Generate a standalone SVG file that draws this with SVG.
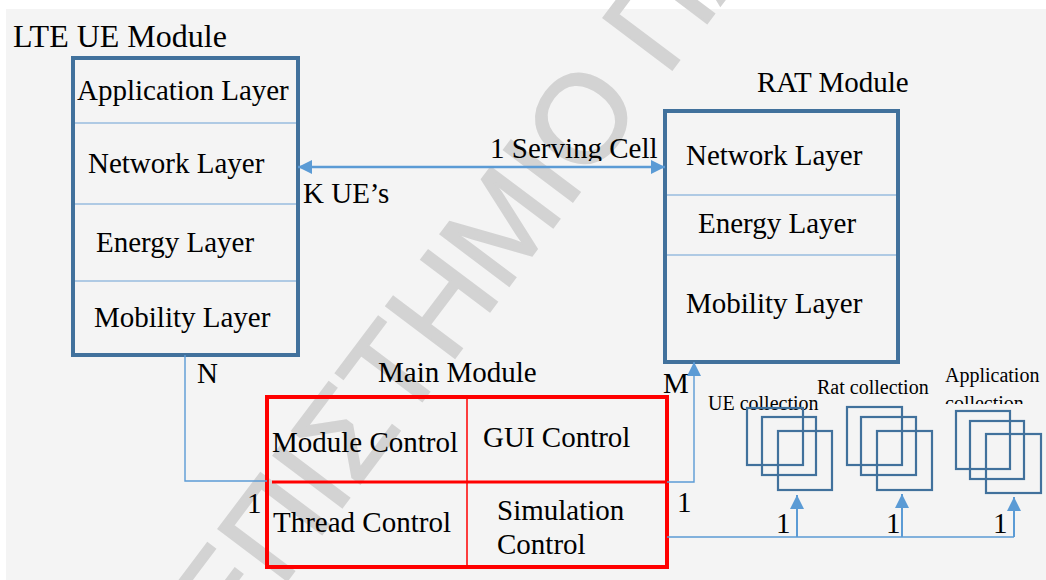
<svg xmlns="http://www.w3.org/2000/svg" width="1046" height="580" viewBox="0 0 1046 580">
<style>
.t{font-size:29px;fill:#000}
.s{font-size:20px;fill:#000}
.box{fill:none;stroke:#41719c;stroke-width:4}
.div{stroke:#6a9fd4;stroke-width:1.2;fill:none}
.con{fill:none;stroke:#5b9bd5;stroke-width:1.4}
.sq{fill:none;stroke:#41719c;stroke-width:2.2}
.wm{font-size:125px;fill:#d3d3d3;stroke:#d3d3d3;stroke-width:2}
</style>
<defs>
<marker id="arr" viewBox="0 0 10 10" refX="10" refY="5" markerWidth="15" markerHeight="14" markerUnits="userSpaceOnUse" orient="auto-start-reverse">
<path d="M0,0 L10,5 L0,10 z" fill="#5b9bd5"/>
</marker>
<clipPath id="clipSC"><rect x="400" y="100" width="300" height="61"/></clipPath>
<clipPath id="clipAC"><rect x="930" y="350" width="116" height="54"/></clipPath>
</defs>
<rect x="6" y="9" width="1040" height="571" fill="#f4f4f4"/>
<text class="wm" font-family="Liberation Sans, Arial, sans-serif" transform="translate(72,866) rotate(-53)">ΠΑΝΕΠΙΣΤΗΜΙΟ ΠΑΤΡΩΝ</text>

<g font-family="Liberation Serif, Times New Roman, DejaVu Serif, serif">
<g id="lte-ue-module">
<text x="13" y="47" style="font-size:32px;fill:#000">LTE UE Module</text>
<rect class="box" x="73" y="58" width="225" height="297"/>
<line class="div" x1="75" y1="123" x2="296" y2="123"/>
<line class="div" x1="75" y1="204" x2="296" y2="204"/>
<line class="div" x1="75" y1="281" x2="296" y2="281"/>
<text class="t" x="77" y="100">Application Layer</text>
<text class="t" x="88" y="173">Network Layer</text>
<text class="t" x="96" y="252">Energy Layer</text>
<text class="t" x="94" y="327">Mobility Layer</text>
</g>

<g id="rat-module">
<text class="t" x="757" y="92">RAT Module</text>
<rect class="box" x="665" y="111" width="233" height="251"/>
<line class="div" x1="667" y1="195" x2="896" y2="195"/>
<line class="div" x1="667" y1="255" x2="896" y2="255"/>
<text class="t" x="686" y="165">Network Layer</text>
<text class="t" x="698" y="233">Energy Layer</text>
<text class="t" x="686" y="313">Mobility Layer</text>
</g>

<g id="main-module">
<text class="t" x="378" y="382">Main Module</text>
<rect x="267" y="397" width="400" height="170" fill="none" stroke="#ff0000" stroke-width="4"/>
<line x1="467" y1="397" x2="467" y2="567" stroke="#ff0000" stroke-width="1.5"/>
<line x1="272" y1="482" x2="665" y2="482" stroke="#ff0000" stroke-width="3"/>
<text class="t" x="272" y="452">Module Control</text>
<text class="t" x="483" y="447">GUI Control</text>
<text class="t" x="273" y="532">Thread Control</text>
<text class="t" x="497" y="520">Simulation</text>
<text class="t" x="497" y="554">Control</text>
</g>

<g id="ue-collection">
<text class="s" x="708" y="410">UE collection</text>
<rect class="sq" x="747" y="408" width="56" height="57"/>
<rect class="sq" x="762" y="417" width="54" height="58"/>
<rect class="sq" x="778" y="431" width="54" height="59"/>
</g>
<g id="rat-collection">
<text class="s" x="817" y="394">Rat collection</text>
<rect class="sq" x="847" y="407" width="55" height="58"/>
<rect class="sq" x="861" y="417" width="55" height="58"/>
<rect class="sq" x="877" y="431" width="55" height="59"/>
</g>
<g id="application-collection">
<text class="s" x="945" y="382">Application</text>
<text class="s" x="945" y="410" clip-path="url(#clipAC)">collection</text>
<rect class="sq" x="956" y="411" width="54" height="58"/>
<rect class="sq" x="970" y="421" width="54" height="58"/>
<rect class="sq" x="986" y="434" width="55" height="59"/>
</g>

<g id="connectors">
<line x1="298" y1="167" x2="665" y2="167" stroke="#5b9bd5" stroke-width="2.5" marker-start="url(#arr)" marker-end="url(#arr)"/>
<text class="t" x="490" y="158" clip-path="url(#clipSC)">1 Serving Cell</text>
<text class="t" x="303" y="203">K UE’s</text>
<path class="con" d="M185,355 V481 H267"/>
<text class="t" x="197" y="383">N</text>
<text class="t" x="247" y="513">1</text>
<path class="con" d="M667,482 H694 V362" marker-end="url(#arr)"/>
<text class="t" x="663" y="393">M</text>
<text class="t" x="677" y="512">1</text>
<path class="con" d="M667,537 H1014"/>
<line x1="797" y1="537" x2="797" y2="495" stroke="#5b9bd5" stroke-width="2" marker-end="url(#arr)"/>
<line x1="902" y1="537" x2="902" y2="494" stroke="#5b9bd5" stroke-width="2" marker-end="url(#arr)"/>
<path d="M1014,537 V497" fill="none" stroke="#5b9bd5" stroke-width="2" marker-end="url(#arr)"/>
<text class="t" x="776" y="533">1</text>
<text class="t" x="886" y="533">1</text>
<text class="t" x="993" y="533">1</text>
</g>
</g>
</svg>
